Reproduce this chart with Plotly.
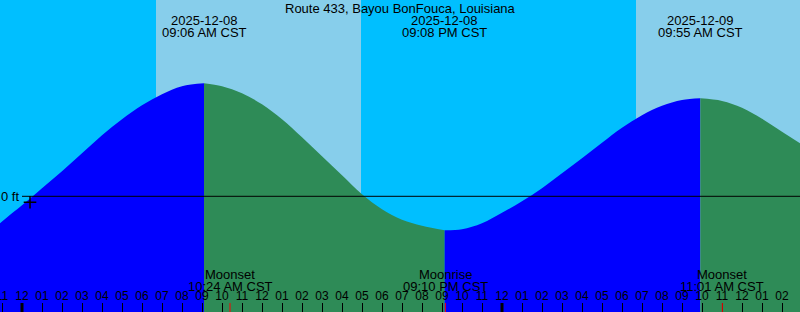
import pandas as pd
import plotly.graph_objects as go

TITLE = "Route 433, Bayou BonFouca, Louisiana"

# Tide curve (time, height in ft)
tide_times = ["2025-12-07 22:54", "2025-12-07 23:30", "2025-12-08 00:00", "2025-12-08 01:00",
              "2025-12-08 02:00", "2025-12-08 03:00", "2025-12-08 04:00", "2025-12-08 05:00",
              "2025-12-08 06:00", "2025-12-08 07:00", "2025-12-08 08:00", "2025-12-08 09:06",
              "2025-12-08 10:00", "2025-12-08 11:00", "2025-12-08 12:00", "2025-12-08 13:00",
              "2025-12-08 14:00", "2025-12-08 15:00", "2025-12-08 16:00", "2025-12-08 17:00",
              "2025-12-08 18:00", "2025-12-08 19:00", "2025-12-08 20:00", "2025-12-08 21:08",
              "2025-12-08 22:00", "2025-12-08 23:00", "2025-12-09 00:00", "2025-12-09 01:00",
              "2025-12-09 02:00", "2025-12-09 03:00", "2025-12-09 04:00", "2025-12-09 05:00",
              "2025-12-09 06:00", "2025-12-09 07:00", "2025-12-09 08:00", "2025-12-09 09:00",
              "2025-12-09 09:55", "2025-12-09 11:00", "2025-12-09 12:00", "2025-12-09 13:00",
              "2025-12-09 14:00", "2025-12-09 14:54"]
tide_ft = [-0.27, -0.17, -0.09, 0.08,
           0.25, 0.43, 0.61, 0.77,
           0.91, 1.02, 1.10, 1.13,
           1.10, 1.03, 0.92, 0.77,
           0.59, 0.40, 0.21, 0.02,
           -0.13, -0.235, -0.295, -0.34,
           -0.33, -0.27, -0.165, -0.05,
           0.08, 0.23, 0.38, 0.535,
           0.685, 0.81, 0.905, 0.962,
           0.98, 0.954, 0.885, 0.775,
           0.645, 0.53]

# Tide extremes (high / low)
extreme_times = ["2025-12-08 09:06", "2025-12-08 21:08", "2025-12-09 09:55"]
extreme_date_labels = ["2025-12-08", "2025-12-08", "2025-12-09"]
extreme_time_labels = ["09:06 AM CST", "09:08 PM CST", "09:55 AM CST"]

# Sun (daylight intervals)
sunrise_times = ["2025-12-08 06:42", "2025-12-09 06:42"]
sunset_times = ["2025-12-08 16:57", "2025-12-09 16:57"]

# Moon events
moon_times = ["2025-12-08 10:24", "2025-12-08 21:10", "2025-12-09 11:01"]
moon_events = ["Moonset", "Moonrise", "Moonset"]
moon_time_labels = ["10:24 AM CST", "09:10 PM CST", "11:01 AM CST"]

midnights = ["2025-12-08 00:00", "2025-12-09 00:00"]
now_time = "2025-12-08 00:24"
now_ft = -0.06

x_range = ["2025-12-07 22:54", "2025-12-09 14:54"]
y_range = [-1.157, 1.963]

NIGHT = "#00BFFF"
DAY = "#87CEEB"
RISE = "#0000FF"
FALL = "#2E8B57"
FONT = "Liberation Sans"
FS = 13

t = pd.to_datetime(pd.Series(tide_times))
h = pd.Series(tide_ft)
ext = pd.to_datetime(pd.Series(extreme_times))

bounds = [t.iloc[0]] + list(ext) + [t.iloc[-1]]
fig = go.Figure()
for i in range(len(bounds) - 1):
    a, b = bounds[i], bounds[i + 1]
    m = (t >= a) & (t <= b)
    xs = t[m]
    ys = h[m]
    color = RISE if ys.iloc[-1] > ys.iloc[0] else FALL
    fig.add_trace(go.Scatter(x=[xs.iloc[0], xs.iloc[-1]], y=[y_range[0] - 1] * 2,
                             mode="lines", line=dict(width=0), showlegend=False,
                             hoverinfo="skip"))
    fig.add_trace(go.Scatter(x=xs, y=ys, mode="lines",
                             line=dict(width=0, shape="spline", smoothing=1),
                             fill="tonexty", fillcolor=color, showlegend=False,
                             hoverinfo="skip"))

fig.add_trace(go.Scatter(x=[now_time], y=[now_ft], mode="markers",
                         marker=dict(symbol="cross-thin", size=9,
                                     line=dict(width=1.5, color="black")),
                         showlegend=False, hoverinfo="skip"))

shapes = []
for sr, ss in zip(sunrise_times, sunset_times):
    shapes.append(dict(type="rect", xref="x", yref="paper", x0=sr, x1=ss, y0=0, y1=1,
                       fillcolor=DAY, line=dict(width=0), layer="below"))
shapes.append(dict(type="line", xref="x", yref="y", x0=midnights[0], x1=x_range[1],
                   y0=0, y1=0, line=dict(color="black", width=1)))
for mn in midnights:
    shapes.append(dict(type="line", xref="x", yref="paper", x0=mn, x1=mn, y0=0,
                       y1=9 / 312, line=dict(color="black", width=3)))
for mt in moon_times:
    shapes.append(dict(type="line", xref="x", yref="paper", x0=mt, x1=mt, y0=0,
                       y1=9 / 312, line=dict(color="red", width=1)))

font = dict(size=FS, color="black", family=FONT)
annotations = [dict(text=TITLE, xref="paper", yref="paper", x=0.5, y=1, yanchor="top",
                    yshift=1, showarrow=False, font=font)]
for et, dl, tl in zip(extreme_times, extreme_date_labels, extreme_time_labels):
    annotations.append(dict(text=dl, x=et, xref="x", yref="paper", y=1, yanchor="top",
                            yshift=-11, showarrow=False, font=font))
    annotations.append(dict(text=tl, x=et, xref="x", yref="paper", y=1, yanchor="top",
                            yshift=-23, showarrow=False, font=font))
for mt, ev, tl in zip(moon_times, moon_events, moon_time_labels):
    annotations.append(dict(text=ev, x=mt, xref="x", yref="paper", y=0, yanchor="bottom",
                            yshift=28.5, showarrow=False, font=font))
    annotations.append(dict(text=tl, x=mt, xref="x", yref="paper", y=0, yanchor="bottom",
                            yshift=16.5, showarrow=False, font=font))
annotations.append(dict(text="0 ft", x=midnights[0], xref="x", y=0, yref="y",
                        xanchor="right", xshift=-1, showarrow=False, font=font))

fig.update_layout(
    width=800, height=312, margin=dict(l=0, r=0, t=0, b=0, autoexpand=False),
    paper_bgcolor=NIGHT, plot_bgcolor=NIGHT,
    shapes=shapes, annotations=annotations, showlegend=False,
    xaxis=dict(type="date", range=x_range, showgrid=False, zeroline=False,
               tick0="2025-12-08 00:00", dtick=3600000, tickformat="%I",
               ticks="inside", ticklen=9, tickcolor="black", tickwidth=1,
               ticklabelposition="inside", ticklabeloverflow="allow",
               tickfont=dict(size=12, color="black", family=FONT),
               showline=False, fixedrange=True, automargin=False),
    yaxis=dict(range=y_range, visible=False, showgrid=False, zeroline=False,
               fixedrange=True),
)

fig.write_html("out.html", config={"displayModeBar": False})
